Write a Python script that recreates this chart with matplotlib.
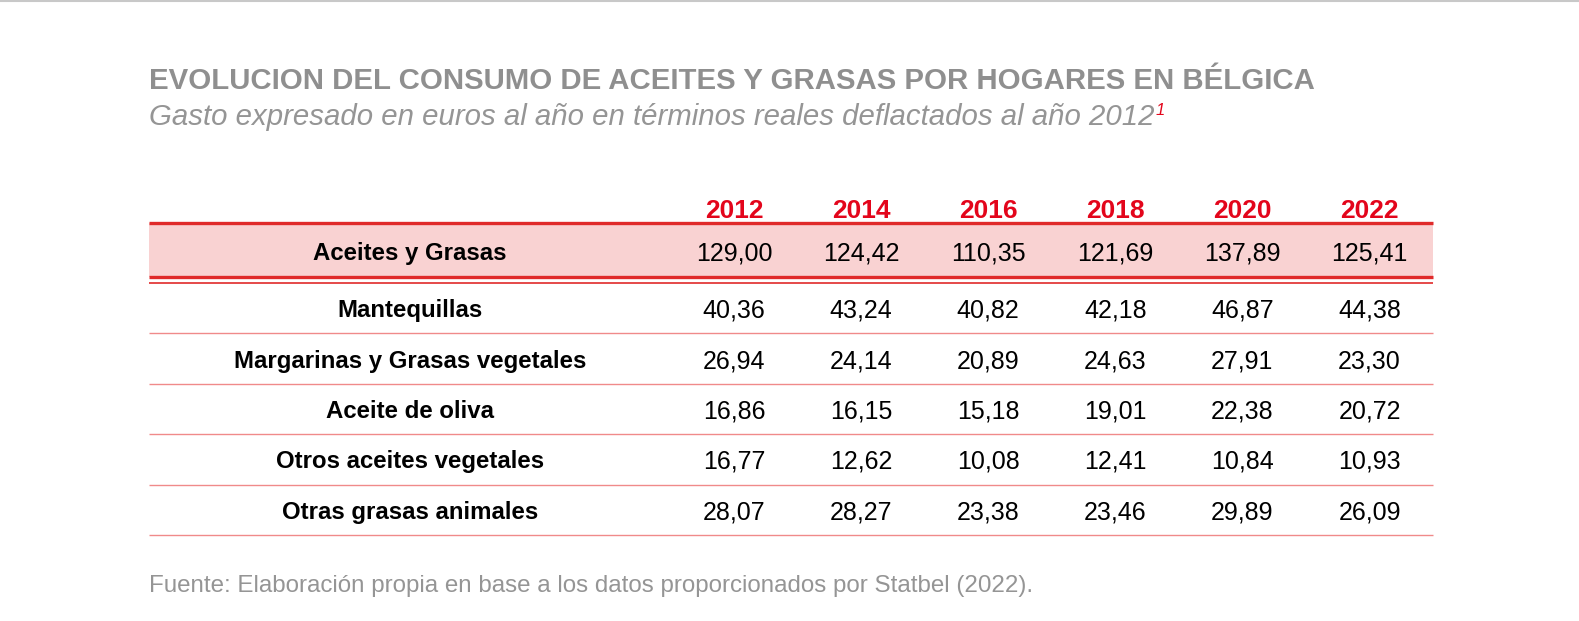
import matplotlib.pyplot as plt

plt.rcParams["font.family"] = ["Liberation Sans", "DejaVu Sans"]

years = ["2012", "2014", "2016", "2018", "2020", "2022"]
total_label = "Aceites y Grasas"
total = [129.00, 124.42, 110.35, 121.69, 137.89, 125.41]
categories = ["Mantequillas", "Margarinas y Grasas vegetales", "Aceite de oliva",
              "Otros aceites vegetales", "Otras grasas animales"]
values = [
    [40.36, 43.24, 40.82, 42.18, 46.87, 44.38],
    [26.94, 24.14, 20.89, 24.63, 27.91, 23.30],
    [16.86, 16.15, 15.18, 19.01, 22.38, 20.72],
    [16.77, 12.62, 10.08, 12.41, 10.84, 10.93],
    [28.07, 28.27, 23.38, 23.46, 29.89, 26.09],
]

title = "EVOLUCION DEL CONSUMO DE ACEITES Y GRASAS POR HOGARES EN BÉLGICA"
subtitle = "Gasto expresado en euros al año en términos reales deflactados al año 2012"
source = "Fuente: Elaboración propia en base a los datos proporcionados por Statbel (2022)."

W, H = 1579, 621
RED = "#e02a2a"
YEAR_RED = "#e3051b"
PINK = "#f9d2d2"
THIN = "#f08a8a"
GRAY = "#959595"


def fmt(v):
    return f"{v:.2f}".replace(".", ",")


fig = plt.figure(figsize=(W / 100, H / 100), dpi=100)
ax = fig.add_axes([0, 0, 1, 1])
ax.set_xlim(0, W)
ax.set_ylim(H, 0)
ax.axis("off")

# layout (pixels)
left, right = 149, 1433
label_x = 410
col_x0, col_dx = 734, 127.1
head_y = 211
top_y, pink_bot = 223, 277
row_h = 50.4
first_row_top = 283

ax.axhline(0.5, color="#c8c8c8", lw=1.5)

ax.text(left, 89, title, fontsize=21.2, fontweight="bold", color="#8f8f8f", va="baseline")
sub = ax.text(left, 125, subtitle, fontsize=21.2, style="italic", color=GRAY, va="baseline")
fig.canvas.draw()
bb = sub.get_window_extent().transformed(ax.transData.inverted())
ax.text(bb.x1 + 1, 115, "1", fontsize=12, style="italic", color=YEAR_RED, va="baseline")

# header
for i, y in enumerate(years):
    ax.text(col_x0 + i * col_dx, head_y, y, fontsize=19, fontweight="bold",
            color=YEAR_RED, ha="center", va="center")

# total row
ax.fill_between([left, right], top_y, pink_bot, color=PINK, lw=0)
ax.plot([left, right], [top_y, top_y], color=RED, lw=2.4, solid_capstyle="butt")
ax.plot([left, right], [pink_bot, pink_bot], color=RED, lw=2.4, solid_capstyle="butt")
ax.plot([left, right], [pink_bot + 6, pink_bot + 6], color=RED, lw=1.2, solid_capstyle="butt")
ty = (top_y + pink_bot) / 2 + 3.5
ax.text(label_x, ty, total_label, fontsize=17.3, fontweight="bold", ha="center", va="center")
for i, v in enumerate(total):
    ax.text(col_x0 + i * col_dx, ty, fmt(v), fontsize=18, ha="center", va="center")

# category rows
for r, (cat, vals) in enumerate(zip(categories, values)):
    y0 = first_row_top + r * row_h
    yc = y0 + row_h / 2 + 2.5
    ax.text(label_x, yc, cat, fontsize=17.3, fontweight="bold", ha="center", va="center")
    for i, v in enumerate(vals):
        ax.text(col_x0 + i * col_dx, yc, fmt(v), fontsize=18, ha="center", va="center")
    ax.plot([left, right], [y0 + row_h, y0 + row_h], color=THIN, lw=1.0, solid_capstyle="butt")

ax.text(left, 592, source, fontsize=17.4, color=GRAY, va="baseline")

fig.savefig("out.png", dpi=100)
